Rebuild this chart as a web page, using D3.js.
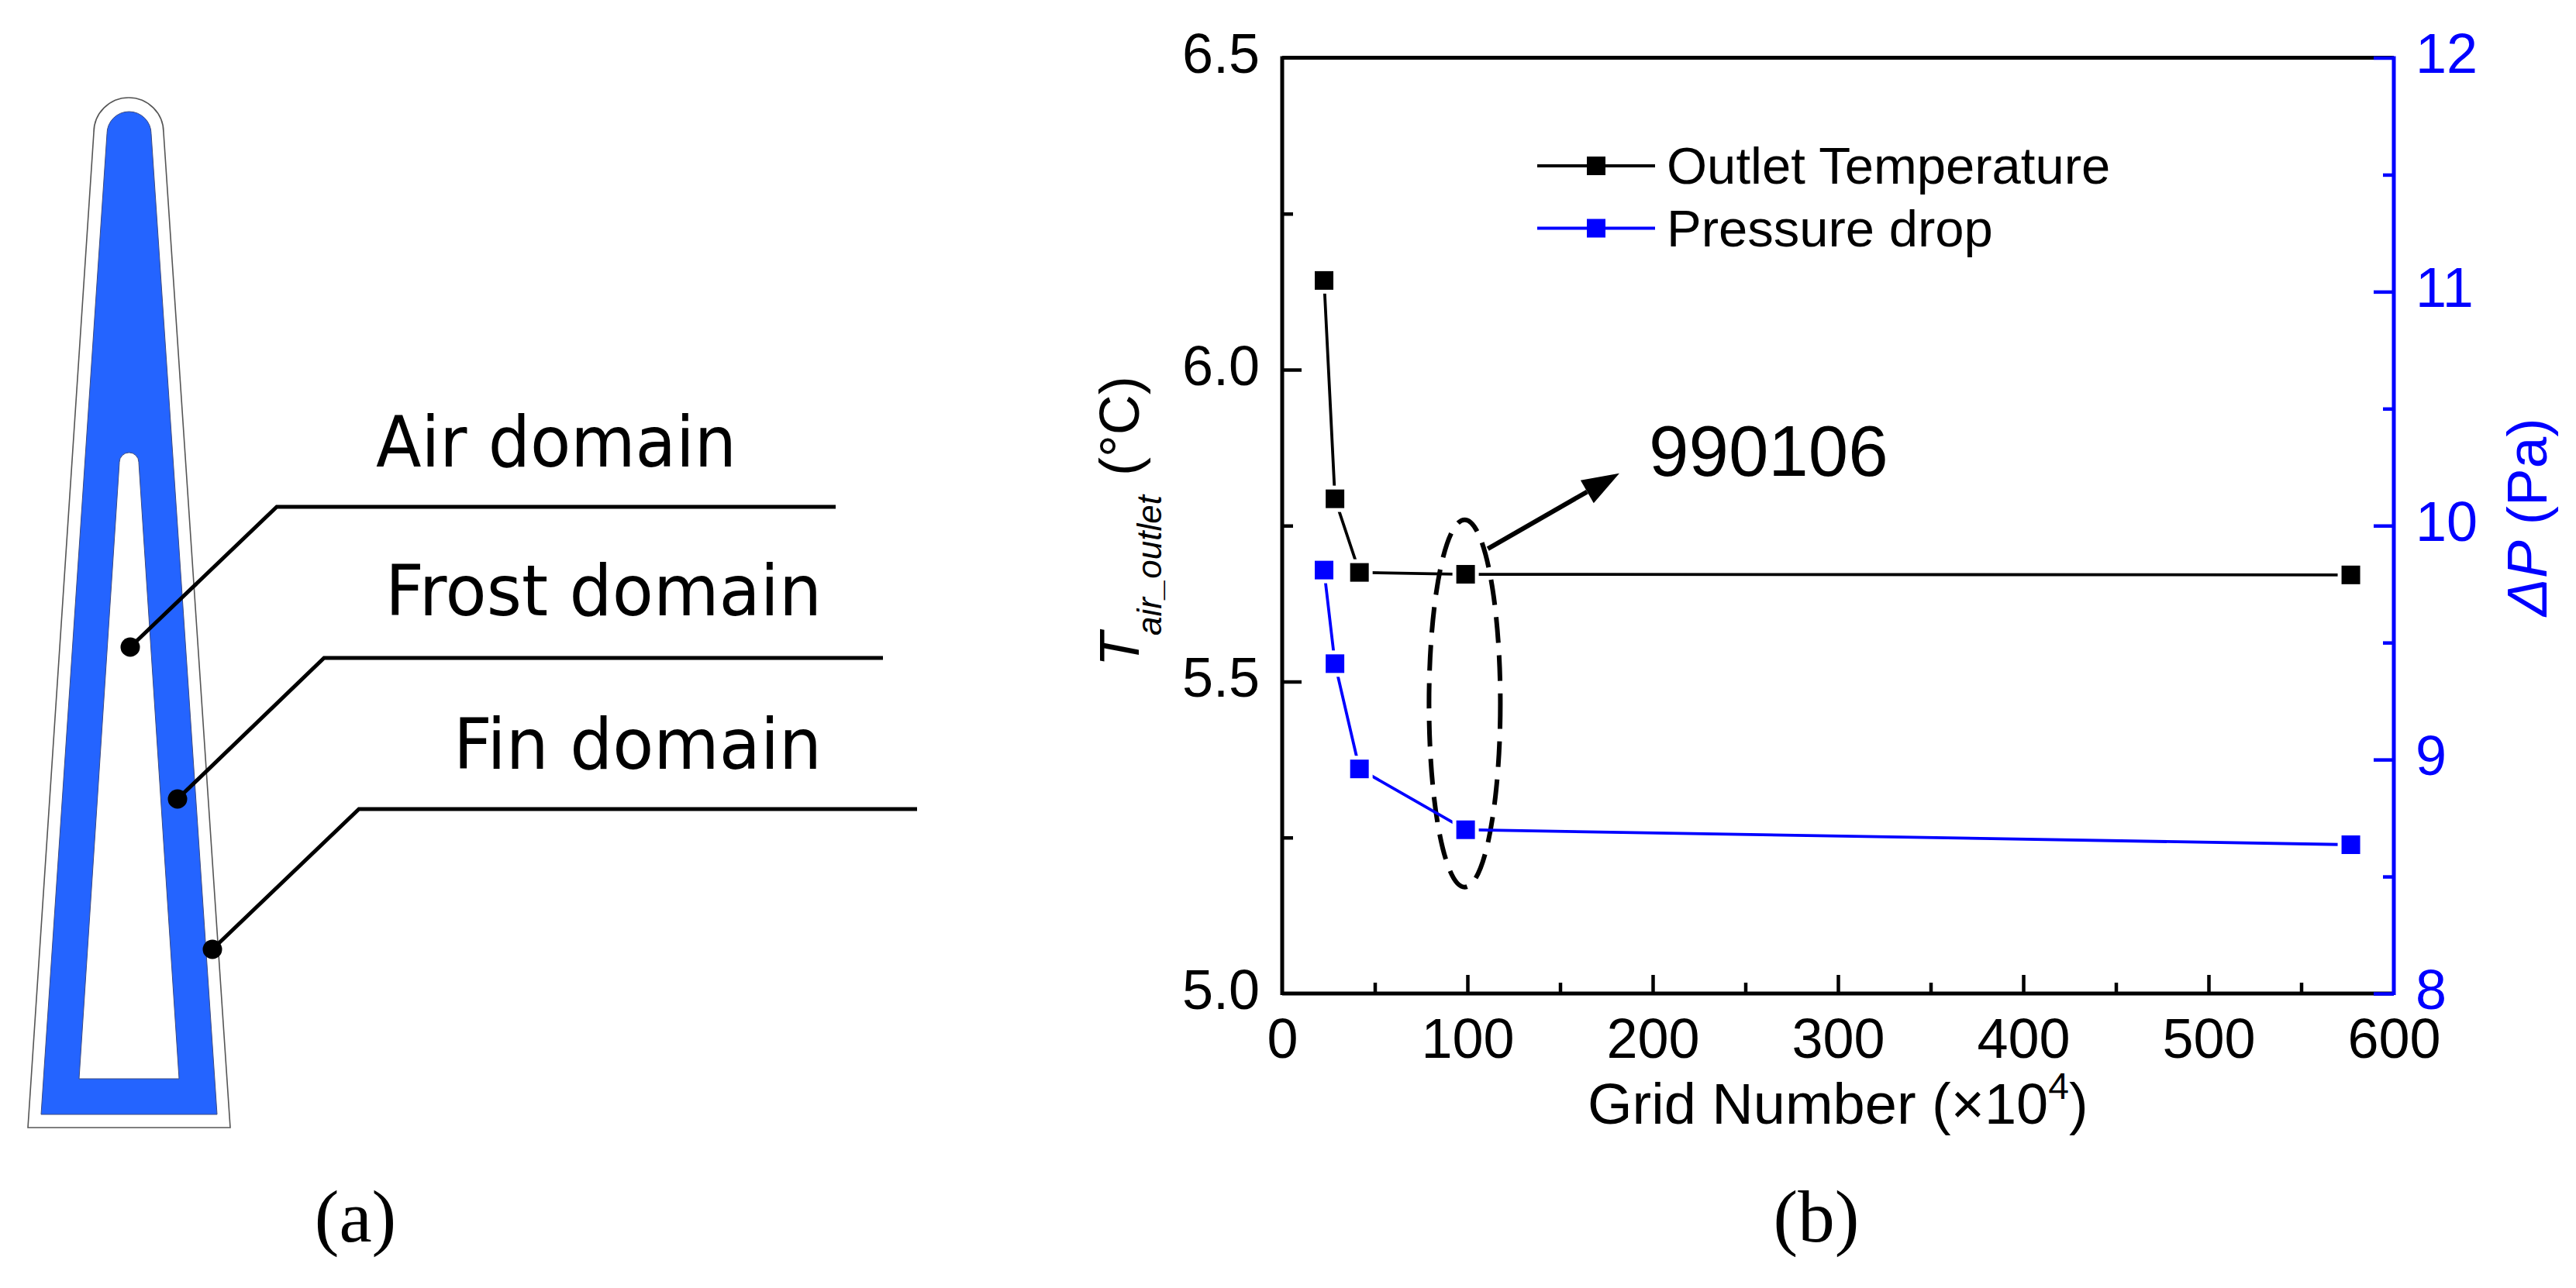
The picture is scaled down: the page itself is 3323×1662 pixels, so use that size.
<!DOCTYPE html>
<html><head><meta charset="utf-8">
<script src="https://cdn.jsdelivr.net/npm/d3@7"></script>
<style>html,body{margin:0;padding:0;background:#fff}svg{display:block}text{font-family:"Liberation Sans",Arial,sans-serif}</style>
</head><body><div id="chart"></div>
<script>
const gridNumber = [22.6, 28.5, 41.7, 99.0, 576.8];
const outletTemperature = [6.143, 5.793, 5.675, 5.672, 5.671];
const pressureDrop = [9.81, 9.41, 8.96, 8.70, 8.636];
const xTicks = [0,100,200,300,400,500,600];
const xMinor = [50,150,250,350,450,550];
const yLeftTicks = [5.0,5.5,6.0,6.5];
const yLeftMinor = [5.25,5.75,6.25];
const yRightTicks = [8,9,10,11,12];
const yRightMinor = [8.5,9.5,10.5,11.5];
const legendNames = ["Outlet Temperature","Pressure drop"];
const domainLabels = ["Air domain","Frost domain","Fin domain"];

const W=3323,H=1662, BLUE="#0000ff", FIN="#2464ff";
const svg=d3.select("#chart").append("svg").attr("width",W).attr("height",H).attr("viewBox",`0 0 ${W} ${H}`);
svg.append("rect").attr("width",W).attr("height",H).attr("fill","#fff");

/* ---------- panel (a) ---------- */
const tip=(xl,xr,yArc,xbl,xbr,yb)=>{
  const r=(xr-xl)/2, yTop=yArc+r;
  return `M${xbl},${yb}L${xl},${yTop}A${r},${r} 0 0 1 ${xr},${yTop}L${xbr},${yb}Z`;
};
const a=svg.append("g");
a.append("path").attr("d",tip(121,211,126,36,297,1455)).attr("fill","#fff").attr("stroke","#555").attr("stroke-width",1.6);
a.append("path").attr("d",tip(138,195,144,53,280,1438)).attr("fill",FIN).attr("stroke","#3a4a80").attr("stroke-width",1);
a.append("path").attr("d",tip(154,179,584,102,231,1392)).attr("fill","#fff").attr("stroke","#3a4a80").attr("stroke-width",1);
const leaders=[
 {dot:[168,835],elbow:[357,654],end:1078},
 {dot:[229,1031],elbow:[418,849],end:1139},
 {dot:[274,1225],elbow:[463,1044],end:1183}];
const labelPos=[[485,602,465],[497,794,563],[585,992,475]];
leaders.forEach((l,i)=>{
  a.append("path").attr("d",d3.line()([l.dot,l.elbow,[l.end,l.elbow[1]]])).attr("fill","none").attr("stroke","#000").attr("stroke-width",5);
  a.append("ellipse").attr("cx",l.dot[0]).attr("cy",l.dot[1]).attr("rx",12.5).attr("ry",12.5).attr("fill","#000");
  a.append("text").attr("x",labelPos[i][0]).attr("y",labelPos[i][1]).attr("textLength",labelPos[i][2]).attr("lengthAdjust","spacingAndGlyphs")
   .style("font-family","'DejaVu Sans'").attr("font-size",91).attr("fill","#000").text(domainLabels[i]);
});
svg.append("text").attr("x",458.5).attr("y",1602).attr("text-anchor","middle").style("font-family","'Liberation Serif'").attr("font-size",95).text("(a)");
svg.append("text").attr("x",2343).attr("y",1602).attr("text-anchor","middle").style("font-family","'Liberation Serif'").attr("font-size",95).text("(b)");

/* ---------- panel (b) ---------- */
const L=1654,R=3088,T=74.5,B=1282;
const x=d3.scaleLinear().domain([0,600]).range([L,R]);
const yL=d3.scaleLinear().domain([5,6.5]).range([B,T]);
const yR=d3.scaleLinear().domain([8,12]).range([B,T]);
const AW=5, FS=72;
function style(g,color){
  g.select(".domain").remove();
  g.selectAll("line").attr("stroke",color).attr("stroke-width",AW-.5);
  g.selectAll("text").attr("fill",color).attr("font-size",FS);
}
const frame=svg.append("g");
frame.append("line").attr("x1",L).attr("x2",R).attr("y1",B).attr("y2",B).attr("stroke","#000").attr("stroke-width",AW);
frame.append("line").attr("x1",L).attr("x2",R).attr("y1",T).attr("y2",T).attr("stroke","#000").attr("stroke-width",AW);
frame.append("line").attr("x1",L).attr("x2",L).attr("y1",T-2).attr("y2",B+2).attr("stroke","#000").attr("stroke-width",AW);
frame.append("line").attr("x1",R).attr("x2",R).attr("y1",T-2).attr("y2",B+2).attr("stroke",BLUE).attr("stroke-width",AW);

const gx=svg.append("g").attr("transform",`translate(0,${B})`).call(d3.axisBottom(x).tickValues(xTicks).tickFormat(d3.format("d")).tickSizeInner(-24).tickPadding(40));
style(gx,"#000");
gx.selectAll("g.tick").filter(d=>d===0||d===600).select("line").remove();
gx.selectAll("text").attr("dy",0).attr("y",83);
svg.append("g").attr("transform",`translate(0,${B})`).call(d3.axisBottom(x).tickValues(xMinor).tickFormat("").tickSizeInner(-14)).call(g=>style(g,"#000"));
const gl=svg.append("g").attr("transform",`translate(${L},0)`).call(d3.axisLeft(yL).tickValues(yLeftTicks).tickFormat(d3.format(".1f")).tickSizeInner(-25).tickPadding(29));
style(gl,"#000");
gl.selectAll("text").attr("dy","0.32em").attr("transform","translate(0,-4)");
gl.selectAll("g.tick").filter(d=>d===5||d===6.5).select("line").remove();
svg.append("g").attr("transform",`translate(${L},0)`).call(d3.axisLeft(yL).tickValues(yLeftMinor).tickFormat("").tickSizeInner(-14)).call(g=>style(g,"#000"));
const gr=svg.append("g").attr("transform",`translate(${R},0)`).call(d3.axisRight(yR).tickValues(yRightTicks).tickFormat(d3.format("d")).tickSizeInner(-26).tickPadding(28));
style(gr,BLUE);
gr.selectAll("text").attr("dy","0.32em").attr("transform","translate(0,-4)");
svg.append("g").attr("transform",`translate(${R},0)`).call(d3.axisRight(yR).tickValues(yRightMinor).tickFormat("").tickSizeInner(-14)).call(g=>style(g,BLUE));

const xt=svg.append("text").attr("x",2048).attr("y",1450).attr("font-size",74).attr("fill","#000");
xt.append("tspan").text("Grid Number (×10");
xt.append("tspan").attr("font-size",48).attr("dy",-32).text("4");
xt.append("tspan").attr("dy",32).text(")");
// left axis title: three separate runs, stacked along the rotated baseline
svg.append("text").attr("transform","translate(1469,860) rotate(-90)").attr("font-size",72).attr("font-style","italic").attr("fill","#000").text("T");
svg.append("text").attr("transform","translate(1498,820) rotate(-90)").attr("font-size",44).attr("font-style","italic").attr("fill","#000").text("air_outlet");
svg.append("text").attr("transform","translate(1469,614) rotate(-90)").attr("font-size",72).attr("fill","#000").text("(°C)");
const rt=svg.append("text").attr("transform","translate(3285,795) rotate(-90)").attr("font-size",73).attr("fill",BLUE);
rt.append("tspan").attr("font-style","italic").text("ΔP");
rt.append("tspan").attr("dx",20).text("(Pa)");

const ann=svg.append("g");
ann.append("ellipse").attr("cx",x(98.5)).attr("cy",yL(5.465)).attr("rx",46).attr("ry",237)
  .attr("fill","none").attr("stroke","#000").attr("stroke-width",6).attr("stroke-dasharray","33 16");

const line=(sx,sy)=>d3.line().x(d=>sx(d[0])).y(d=>sy(d[1]));
const series=[
 {vals:d3.zip(gridNumber,outletTemperature),sy:yL,c:"#000",name:legendNames[0]},
 {vals:d3.zip(gridNumber,pressureDrop),sy:yR,c:BLUE,name:legendNames[1]}];
const M=24;
series.forEach(s=>{
  const g=svg.append("g");
  g.append("path").attr("d",line(x,s.sy)(s.vals)).attr("fill","none").attr("stroke",s.c).attr("stroke-width",3.8);
  g.selectAll("rect.halo").data(s.vals).join("rect").attr("x",d=>x(d[0])-M/2-5).attr("y",d=>s.sy(d[1])-M/2-5).attr("width",M+10).attr("height",M+10).attr("fill","#fff");
  g.selectAll("rect.pt").data(s.vals).join("rect").attr("class","pt").attr("x",d=>x(d[0])-M/2).attr("y",d=>s.sy(d[1])-M/2).attr("width",M).attr("height",M).attr("fill",s.c);
});
const ax0=x(111),ay0=yL(5.713),ax1=x(182),ay1=yL(5.834);
const ang=Math.atan2(ay1-ay0,ax1-ax0),hl=48,hw=17;
const bx=ax1-hl*Math.cos(ang),by=ay1-hl*Math.sin(ang);
ann.append("line").attr("x1",ax0).attr("y1",ay0).attr("x2",bx).attr("y2",by).attr("stroke","#000").attr("stroke-width",6);
ann.append("path").attr("d",`M${ax1},${ay1}L${bx-hw*Math.sin(ang)},${by+hw*Math.cos(ang)}L${bx+hw*Math.sin(ang)},${by-hw*Math.cos(ang)}Z`).attr("fill","#000");
ann.append("text").attr("x",2127).attr("y",614).attr("font-size",92.5).attr("fill","#000").text("990106");

series.forEach((s,i)=>{
  const ly=[214,294.5][i];
  svg.append("line").attr("x1",1983).attr("x2",2135).attr("y1",ly).attr("y2",ly).attr("stroke",s.c).attr("stroke-width",4);
  svg.append("rect").attr("x",2059-M/2).attr("y",ly-M/2).attr("width",M).attr("height",M).attr("fill",s.c);
  svg.append("text").attr("x",2150).attr("y",ly+23).attr("font-size",67).attr("fill","#000").text(s.name);
});
</script></body></html>
